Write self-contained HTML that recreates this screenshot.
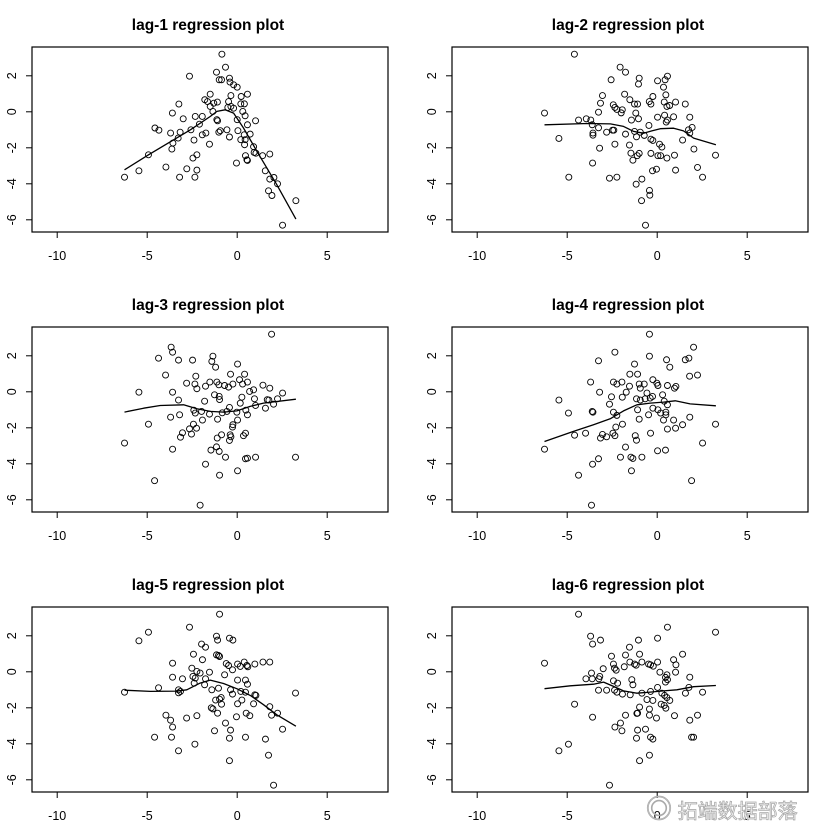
<!DOCTYPE html>
<html><head><meta charset="utf-8">
<style>
html,body{margin:0;padding:0;background:#fff;}
svg{display:block;font-family:"Liberation Sans",Arial,sans-serif;}
.wm{position:absolute;left:646px;top:789px;white-space:nowrap;font:20px "Liberation Sans","Noto Sans CJK SC",sans-serif;color:#fff;-webkit-text-stroke:0.8px #aaa;}
</style></head>
<body>
<div style="position:relative;width:840px;height:840px;overflow:hidden;">
<svg id="chart" width="840" height="840" viewBox="0 0 840 840"></svg>
<div class="wm"><span style="font-size:26px;">◎</span> 拓端数据部落</div>
</div>
<script>
const xTicks=[-10,-5,0,5];
const yTicks=[2,0,-2,-4,-6];
const titles=["lag-1 regression plot","lag-2 regression plot","lag-3 regression plot","lag-4 regression plot","lag-5 regression plot","lag-6 regression plot"];

const lag1X=[-0.85,-1.15,-0.65,-2.65,-1.0,-0.87,-0.43,-0.4,-0.2,0,-1.5,-0.35,0.22,0.57,-1.8,-1.65,-1.3,-1.1,-0.48,-0.35,-0.2,-0.52,0.2,0.4,-3.24,-3.6,-3.0,-2.33,-1.94,-1.35,-1.5,-1.13,-1.09,0.31,0.44,0,1.02,0.57,-4.57,-4.35,-3.7,-3.17,-2.57,-2.1,-1.94,-1.74,-1.02,-0.94,-0.57,-0.43,0.04,0.39,0.72,0.2,0.44,-2.4,-3.28,-3.57,-3.63,-1.54,0.41,0.91,0.94,1.04,1.41,1.81,-4.93,-2.24,-2.46,0.46,0.54,0.57,-0.04,-3.96,-2.8,-2.24,-2.35,-3.2,-5.46,-6.26,1.56,1.81,2.04,2.24,1.74,1.93,3.26,2.52];
const lag1Y=[3.2,2.2,2.48,1.98,1.78,1.78,1.87,1.65,1.5,1.37,0.98,0.9,0.85,0.98,0.67,0.57,0.48,0.54,0.57,0.3,0.2,0.24,0.44,0.44,0.43,-0.07,-0.39,-0.26,-0.26,0.02,0.3,-0.44,-0.5,0.02,-0.22,-0.44,-0.5,-0.72,-0.9,-1.02,-1.18,-1.13,-1.0,-0.69,-1.28,-1.18,-1.13,-1.05,-1.0,-1.4,-1.05,-1.28,-1.24,-1.55,-1.55,-1.57,-1.46,-1.74,-2.07,-1.8,-1.83,-1.94,-2.26,-2.3,-2.44,-2.35,-2.39,-2.39,-2.57,-2.44,-2.67,-2.7,-2.85,-3.07,-3.17,-3.24,-3.63,-3.63,-3.28,-3.63,-3.28,-3.74,-3.65,-4.0,-4.39,-4.65,-4.94,-6.3];
const fit1X=[-6.26,-4.93,-2.6,-1.5,-1.13,-0.67,-0.2,0.35,1.1,2.2,3.26];
const fit1Y=[-3.22,-2.39,-1.0,-0.26,0.02,0.11,-0.07,-0.9,-2.2,-4.05,-5.96];

const lag2X=[-4.6,-2.06,-1.76,-2.56,-1.0,-1.04,0.02,0.44,0.57,0.35,-3.04,-3.15,-3.26,-1.81,-1.52,-1.26,-1.09,-2.44,-2.35,-2.24,-1.94,-2.0,-0.44,-0.35,-0.24,0.48,0.39,0.54,0.69,1.02,1.56,-6.26,-1.19,-1.04,-1.43,0.02,0.41,0.91,0.5,0.57,1.81,-4.37,-3.94,-3.69,-3.61,-3.26,-3.57,-3.57,-2.81,-2.48,-2.41,-1.76,-1.26,-1.15,-0.94,-0.72,-0.46,-0.35,-0.24,1.74,1.94,1.81,-5.46,1.41,-3.2,-2.35,-1.54,0.13,0.26,2.04,-1.46,-1.0,-1.11,-1.35,-0.35,0.04,0.19,0.54,0.96,3.24,-3.59,-0.26,-0.04,1.02,2.24,2.52,-4.91,-2.65,-2.24,-1.17,-0.85,-0.43,-0.41,-0.87,-0.65];
const lag2Y=[3.2,2.48,2.2,1.78,1.87,1.54,1.72,1.78,1.98,1.37,0.9,0.48,-0.02,0.98,0.67,0.43,0.43,0.39,0.24,0.13,0.11,-0.06,0.57,0.43,0.85,0.94,0.54,0.3,0.35,0.54,0.43,-0.07,-0.07,-0.39,-0.46,-0.3,-0.19,-0.28,-0.57,-0.46,-0.3,-0.46,-0.39,-0.46,-0.72,-0.89,-1.18,-1.3,-1.13,-1.02,-1.02,-1.24,-1.09,-1.39,-1.13,-1.31,-0.76,-1.52,-1.59,-1.0,-0.87,-1.18,-1.48,-1.57,-2.02,-1.8,-1.85,-1.8,-1.96,-2.07,-2.3,-2.31,-2.44,-2.69,-2.31,-2.44,-2.44,-2.57,-2.41,-2.41,-2.85,-3.28,-3.19,-3.24,-3.09,-3.63,-3.63,-3.69,-3.63,-4.02,-3.74,-4.37,-4.63,-4.94,-6.3];
const fit2X=[-6.26,-3.9,-2.6,-1.87,-1.31,-0.76,-0.3,0.17,0.91,1.46,2.02,3.26];
const fit2Y=[-0.72,-0.65,-0.67,-0.81,-1.09,-1.19,-1.06,-0.94,-0.91,-1.06,-1.46,-1.83];

const lag3X=[1.91,-3.67,-3.59,-4.37,-3.26,-2.48,-1.35,-1.41,-1.2,0.02,-3.98,-2.3,-0.37,0.41,-2.81,-2.35,-2.24,-1.76,-1.52,-1.13,-1.02,-0.7,-0.48,-0.24,0.13,0.3,0.57,0.69,0.91,1.43,1.81,2.52,-5.46,-3.59,-3.26,-1.26,-1.0,-0.98,-1.81,0.26,0.17,0.96,1.67,1.76,2.02,2.24,1.02,1.57,-2.41,-2.33,-1.98,-1.54,-0.83,-0.57,-0.43,-0.02,0.48,0.57,-3.2,-3.7,-4.93,-1.93,-1.09,0.02,-0.24,-0.26,-2.43,-2.65,-2.26,-2.54,-3.04,-3.15,-0.87,-1.11,-0.39,-0.35,-0.43,0.46,0.35,-6.26,-3.59,-1.46,-1.15,-1.0,-0.65,0.46,0.57,1.02,3.24,-1.76,0.02,-0.98,-4.59,-2.06];
const lag3Y=[3.2,2.48,2.2,1.87,1.76,1.76,1.98,1.69,1.37,1.54,0.93,0.87,0.98,0.98,0.48,0.43,0.17,0.31,0.54,0.54,0.39,0.35,0.26,0.43,0.67,0.43,0.54,0.02,0.11,0.37,0.2,-0.07,-0.02,-0.02,-0.46,-0.17,-0.26,-0.43,-0.52,-0.3,-0.63,-0.39,-0.44,-0.46,-0.69,-0.39,-0.76,-0.91,-1.02,-1.18,-1.09,-1.24,-1.17,-1.09,-0.87,-1.13,-1.02,-1.28,-1.28,-1.41,-1.8,-1.57,-1.52,-1.57,-1.83,-1.96,-1.8,-2.06,-2.02,-2.35,-2.28,-2.52,-2.39,-2.57,-2.39,-2.5,-2.7,-2.3,-2.44,-2.85,-3.19,-3.24,-3.06,-3.31,-3.63,-3.72,-3.69,-3.63,-3.63,-4.02,-4.39,-4.63,-4.94,-6.3];
const fit3X=[-6.26,-5.2,-4.28,-2.98,-2.24,-1.5,-0.76,-0.02,0.72,1.46,3.26];
const fit3Y=[-1.13,-0.91,-0.76,-0.72,-0.94,-1.09,-1.13,-1.06,-0.81,-0.63,-0.41];

const lag4X=[-0.43,2.02,-2.35,-0.43,-3.26,0.52,0.7,1.56,1.76,-1.26,-1.52,-1.09,1.8,2.24,-3.7,-2.43,-2.24,-1.96,-1.54,-1.0,-0.94,-0.72,-0.24,-0.02,0.04,0.57,0.96,1.04,-3.2,-5.46,-2.54,-2.65,-1.94,-1.72,-1.15,-0.94,-0.67,-0.57,-0.39,-0.26,0.3,0.39,0.57,-0.24,0.04,0.19,0.48,0.48,-4.93,-3.61,-3.57,-2.43,-2.24,-1.09,-1.0,-0.48,0.35,0.91,1.81,3.24,-1.93,-2.3,0.57,1.02,1.41,-4.59,-3.98,-3.15,-3.04,-2.81,-2.46,-2.35,-1.22,-1.15,-0.37,2.52,-6.26,-1.76,0.02,0.46,-2.04,-1.46,-1.35,-0.85,-3.26,-3.59,-1.43,-4.37,1.91,-3.65];
const lag4Y=[3.2,2.48,2.2,1.98,1.72,1.78,1.37,1.78,1.87,1.54,0.98,0.98,0.87,0.93,0.54,0.54,0.43,0.54,0.31,0.43,0.2,0.43,0.67,0.48,0.35,0.35,0.2,0.3,-0.02,-0.46,-0.28,-0.69,-0.3,-0.02,-0.39,-0.46,-0.39,-0.07,-0.35,-0.26,-0.17,-0.52,-0.72,-0.91,-1.0,-1.18,-1.13,-1.28,-1.18,-1.09,-1.13,-1.13,-1.31,-1.0,-1.52,-1.28,-1.57,-1.57,-1.41,-1.8,-1.8,-1.96,-2.07,-2.02,-1.83,-2.41,-2.3,-2.57,-2.37,-2.5,-2.3,-2.44,-2.44,-2.69,-2.3,-2.85,-3.19,-3.07,-3.28,-3.24,-3.63,-3.63,-3.7,-3.63,-3.72,-4.02,-4.39,-4.63,-4.94,-6.3];
const fit4X=[-6.26,-4.65,-3.54,-2.61,-1.87,-1.13,-0.39,0.35,1.0,1.83,3.26];
const fit4Y=[-2.76,-2.2,-1.83,-1.5,-1.06,-0.72,-0.63,-0.57,-0.5,-0.67,-0.78];

const lag5X=[-0.98,-2.65,-4.93,-5.46,-1.15,-1.09,-0.43,-0.24,-1.98,-1.76,-2.43,-1.93,-1.15,-1.04,-0.98,-3.59,-3.59,-2.52,-2.24,-2.06,-2.46,-2.33,-2.39,-1.54,-1.76,-1.81,-0.61,-0.48,-0.26,-0.7,0.02,0.17,0.39,0.54,0.59,0.98,1.43,1.81,-3.04,0.02,0.46,0.57,-4.37,-3.26,-3.15,-3.26,-6.26,-1.41,-1.04,-0.37,-0.26,0.2,0.46,0.98,1.04,3.24,-1.2,-0.98,-0.89,-0.87,0.26,0.02,0.91,-1.44,-1.35,-1.09,1.81,1.91,2.24,-3.96,-3.7,-3.59,-2.81,-2.24,0.5,0.7,-0.04,-0.65,-0.37,-1.26,-0.43,2.52,-4.59,-3.65,0.46,1.57,-3.26,-2.35,1.74,-0.43,2.02];
const lag5Y=[3.2,2.48,2.2,1.72,1.98,1.76,1.87,1.76,1.54,1.37,0.98,0.67,0.94,0.91,0.85,0.48,-0.3,0.2,0.02,-0.07,-0.26,-0.35,-0.63,-0.02,-0.39,-0.72,0.46,0.35,0.11,-0.17,0.43,0.3,0.54,0.35,0.28,0.43,0.54,0.54,-0.39,-0.46,-0.46,-0.69,-0.89,-1.0,-1.09,-1.17,-1.13,-1.0,-0.91,-1.0,-1.24,-1.09,-1.13,-1.28,-1.31,-1.18,-1.57,-1.52,-1.43,-1.8,-1.57,-1.78,-1.78,-2.0,-2.06,-2.3,-1.94,-2.41,-2.3,-2.41,-2.69,-3.07,-2.57,-2.44,-2.3,-2.44,-2.5,-2.85,-3.24,-3.28,-3.69,-3.19,-3.63,-3.63,-3.63,-3.74,-4.39,-4.02,-4.63,-4.94,-6.3];
const fit5X=[-6.26,-4.83,-3.35,-2.8,-2.06,-1.5,-0.76,-0.02,0.72,1.46,2.2,3.26];
const fit5Y=[-1.02,-1.09,-1.07,-1.0,-0.63,-0.46,-0.65,-0.94,-1.31,-1.83,-2.39,-3.02];

const lag6X=[-4.37,0.57,3.24,-3.7,-3.59,-3.15,-1.04,0.02,-1.54,-2.54,-1.76,-0.98,1.41,0.91,1.04,1.02,-6.26,-2.43,-2.37,-2.28,-3.0,-1.83,-1.52,-1.26,-1.17,-0.85,-0.48,-0.37,-0.22,0.02,0.15,0.54,0.46,0.46,0.57,-3.65,-3.96,-3.61,-3.19,-3.24,-2.43,-2.2,-1.41,-1.35,1.81,1.76,-3.26,-2.81,-2.37,-2.24,-1.93,-1.5,-0.85,-0.37,0.02,0.26,0.41,0.54,0.7,-0.57,-0.24,1.57,2.52,-4.59,0.22,0.39,0.48,-0.98,-0.43,-1.09,-1.13,-1.76,-0.43,-0.04,0.96,1.81,2.24,-3.59,-2.04,-2.35,-1.96,-1.09,-0.65,-1.15,-0.37,-0.24,1.91,2.02,-4.93,-5.46,-0.43,-0.98,-2.65];
const lag6Y=[3.2,2.48,2.2,1.98,1.54,1.76,1.76,1.87,1.37,0.87,0.93,0.98,0.98,0.67,0.39,-0.02,0.48,0.43,0.2,0.09,0.17,0.28,0.54,0.43,0.37,0.54,0.43,0.39,0.31,0.54,-0.02,-0.17,-0.31,-0.57,-0.44,-0.07,-0.39,-0.39,-0.26,-0.39,-0.5,-0.63,-0.44,-0.72,-0.3,-0.87,-1.02,-1.02,-1.02,-1.13,-1.24,-1.28,-1.19,-1.09,-0.87,-1.19,-1.31,-1.43,-1.59,-1.54,-1.59,-1.19,-1.13,-1.8,-1.8,-1.87,-2.02,-1.96,-2.07,-2.3,-2.31,-2.41,-2.41,-2.57,-2.44,-2.69,-2.41,-2.52,-2.85,-3.07,-3.28,-3.24,-3.19,-3.69,-3.63,-3.74,-3.63,-3.63,-4.02,-4.39,-4.63,-4.94,-6.3];
const fit6X=[-6.26,-4.83,-3.54,-2.98,-2.43,-1.87,-1.13,-0.39,0.35,1.09,2.02,3.26];
const fit6Y=[-0.94,-0.78,-0.69,-0.57,-0.81,-1.06,-1.19,-1.13,-1.06,-1.0,-0.83,-0.76];

const ptsX=[lag1X,lag2X,lag3X,lag4X,lag5X,lag6X];
const ptsY=[lag1Y,lag2Y,lag3Y,lag4Y,lag5Y,lag6Y];
const fitX=[fit1X,fit2X,fit3X,fit4X,fit5X,fit6X];
const fitY=[fit1Y,fit2Y,fit3Y,fit4Y,fit5Y,fit6Y];

const NS="http://www.w3.org/2000/svg";
const svg=document.getElementById('chart');
function mk(tag,attrs,parent){const e=document.createElementNS(NS,tag);for(const k in attrs)e.setAttribute(k,attrs[k]);parent.appendChild(e);return e;}

const colLeft=[32,452], rowTop=[47,327,607];
const boxW=356, boxH=185, xMin=-11.4, yTopVal=3.6;
for(let p=0;p<6;p++){
  const c=p%2, r=Math.floor(p/2);
  const L=colLeft[c], T=rowTop[r];
  const sx=v=>L+(v-xMin)*18;
  const sy=v=>T+(yTopVal-v)*18;
  const g=mk('g',{},svg);
  
  
  const t=mk('text',{x:L+boxW/2-2,y:T-17,'text-anchor':'middle','font-size':'15.5','font-weight':'bold',fill:'#000'},g);
  t.textContent=titles[p];
  
  
  const box=mk('rect',{x:L,y:T,width:boxW,height:boxH,fill:'none',stroke:'#000','stroke-width':1.2},g);
  
  
  xTicks.forEach(v=>{
    const x=sx(v);
    const tk=mk('line',{x1:x,x2:x,y1:T+boxH,y2:T+boxH+6,stroke:'#000','stroke-width':1},g);
    
    
    const lb=mk('text',{x:x,y:T+boxH+28,'text-anchor':'middle','font-size':'12.5',fill:'#000'},g);
    lb.textContent=String(v);
    
    
  });
  yTicks.forEach(v=>{
    const y=sy(v);
    const tk=mk('line',{x1:L-6,x2:L,y1:y,y2:y,stroke:'#000','stroke-width':1},g);
    
    
    const lb=mk('text',{x:L-20,y:y,'text-anchor':'middle','font-size':'12.5',fill:'#000',transform:`rotate(-90 ${L-20} ${y})`,'dominant-baseline':'central'},g);
    lb.textContent=String(v);
    
    
  });
  const xs=ptsX[p], ys=ptsY[p];
  for(let i=0;i<Math.min(xs.length,ys.length);i++){
    const ci=mk('circle',{cx:sx(xs[i]),cy:sy(ys[i]),r:3,fill:'none',stroke:'#000','stroke-width':0.9},g);
    
    
  }
  const fx=fitX[p], fy=fitY[p];
  let d='';
  for(let i=0;i<fx.length;i++) d+=(i?'L':'M')+sx(fx[i]).toFixed(1)+' '+sy(fy[i]).toFixed(1);
  const ln=mk('path',{d:d,fill:'none',stroke:'#000','stroke-width':1.3,'stroke-linejoin':'round'},g);
  
  
}
</script>
</body></html>
